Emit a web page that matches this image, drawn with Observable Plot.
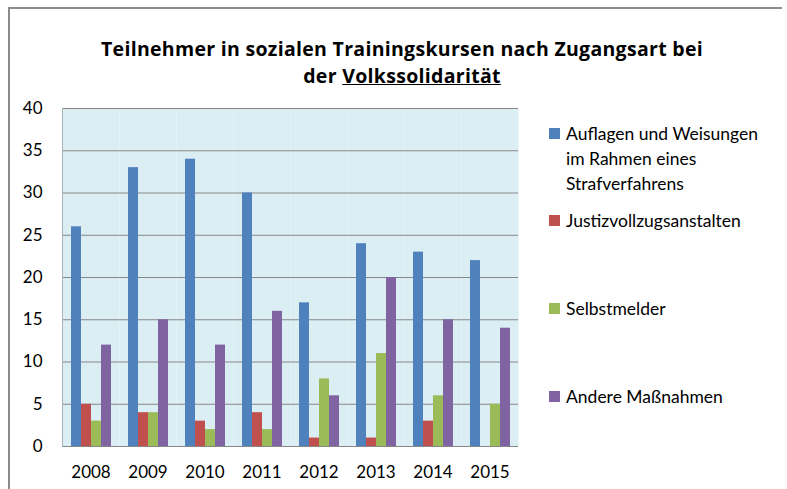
<!DOCTYPE html>
<html>
<head>
<meta charset="utf-8">
<script src="https://cdn.jsdelivr.net/npm/d3@7"></script>
<script src="https://cdn.jsdelivr.net/npm/@observablehq/plot@0.6"></script>
<style>
  html, body { margin: 0; padding: 0; background: #fff; }
  #wrap { position: relative; width: 787px; height: 489px; overflow: hidden; font-family: Lato, "Open Sans", sans-serif; color: #000; }
  #border { position: absolute; left: 8px; top: 7px; width: 772px; height: 500px; border-top: 2px solid #8c8c8c; border-left: 2px solid #8c8c8c; }
  #title { position: absolute; left: 2px; top: 35px; width: 800px; text-align: center; font-family: "Open Sans", Lato, sans-serif; font-weight: bold; font-size: 19.5px; line-height: 27px; letter-spacing: 0.3px; }
  #chart { position: absolute; left: 0; top: 90px; }
  .leg { position: absolute; left: 549px; width: 236px; font-size: 17.5px; line-height: 25px; }
  .leg .sw { position: absolute; left: 0; top: 7px; width: 11px; height: 11px; }
  .leg .tx { margin-left: 17px; width: 205px; }
</style>
</head>
<body>
<div id="wrap">
  <div id="border"></div>
  <div id="title"></div>
  <div id="chart"></div>
  <div id="legend"></div>
</div>
<script>
const years = ["2008", "2009", "2010", "2011", "2012", "2013", "2014", "2015"];
const seriesNames = [
  "Auflagen und Weisungen im Rahmen eines Strafverfahrens",
  "Justizvollzugsanstalten",
  "Selbstmelder",
  "Andere Maßnahmen"
];
const auflagen = [26, 33, 34, 30, 17, 24, 23, 22];
const justiz = [5, 4, 3, 4, 1, 1, 3, 0];
const selbstmelder = [3, 4, 2, 2, 8, 11, 6, 5];
const andere = [12, 15, 12, 16, 6, 20, 15, 14];
const colors = ["#4F81BD", "#C0504D", "#9BBB59", "#8064A2"];
const yTicks = [0, 5, 10, 15, 20, 25, 30, 35, 40];
const titleLine1 = "Teilnehmer in sozialen Trainingskursen nach Zugangsart bei";
const titleLine2a = "der ";
const titleLine2b = "Volkssolidarität";

const seriesValues = [auflagen, justiz, selbstmelder, andere];
const data = [];
years.forEach((yr, i) => {
  seriesNames.forEach((s, j) => data.push({year: yr, series: s, value: seriesValues[j][i]}));
});

// title
const t = document.getElementById("title");
t.appendChild(document.createTextNode(titleLine1));
t.appendChild(document.createElement("br"));
t.appendChild(document.createTextNode(titleLine2a));
const u = document.createElement("span");
u.style.textDecoration = "underline";
u.textContent = titleLine2b;
t.appendChild(u);

const chart = Plot.plot({
  width: 519,
  height: 396,
  marginTop: 18,
  marginBottom: 40,
  marginLeft: 61,
  marginRight: 0,
  style: {fontFamily: "Lato, sans-serif", fontSize: "17px", color: "#000", background: "transparent"},
  fx: {domain: years, padding: 0, tickSize: 0, tickPadding: 19, label: null, axis: "bottom"},
  x: {domain: seriesNames, paddingInner: 0, paddingOuter: 0.79, axis: null},
  y: {domain: [0, 40], ticks: yTicks, tickSize: 0, tickPadding: 20, label: null},
  color: {domain: seriesNames, range: colors},
  marks: [
    Plot.frame({fill: "#DBEEF4", stroke: null}),
    Plot.ruleY(yTicks, {stroke: "#878787", strokeWidth: 1, strokeOpacity: 1}),
    Plot.barY(data, {fx: "year", x: "series", y: "value", fill: "series"}),
    Plot.frame({anchor: "left", stroke: "#a9b4b8", facet: "super"})
  ]
});
document.getElementById("chart").appendChild(chart);

// legend
const legendTops = [121, 208, 296, 384];
const lg = document.getElementById("legend");
seriesNames.forEach((s, i) => {
  const d = document.createElement("div");
  d.className = "leg";
  d.style.top = legendTops[i] + "px";
  const sw = document.createElement("div");
  sw.className = "sw";
  sw.style.background = colors[i];
  const tx = document.createElement("div");
  tx.className = "tx";
  tx.textContent = s;
  d.appendChild(sw);
  d.appendChild(tx);
  lg.appendChild(d);
});
</script>
</body>
</html>
